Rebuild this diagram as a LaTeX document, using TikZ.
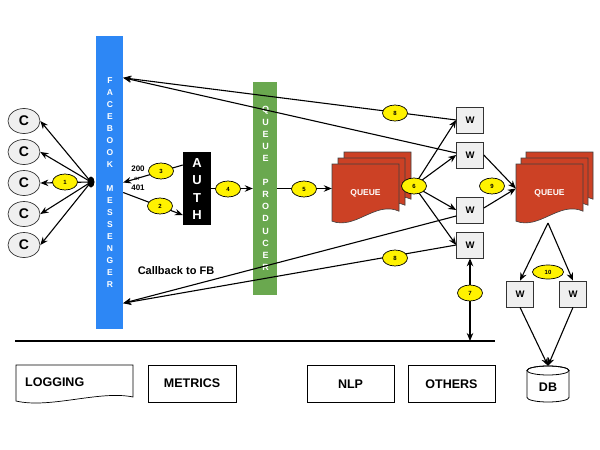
\documentclass[tikz,border=0pt]{standalone}
\usepackage{fontspec}
\setmainfont{Liberation Sans}
\usetikzlibrary{arrows.meta,calc,shapes.geometric}
\definecolor{fbblue}{RGB}{45,135,245}
\definecolor{prodgreen}{RGB}{106,168,79}
\definecolor{qred}{RGB}{204,65,37}
\definecolor{wgray}{RGB}{239,239,239}
\begin{document}
\begin{tikzpicture}[x=1pt,y=-1pt,
 conn/.style={line width=1.1pt, -{Stealth[length=8pt,width=6.5pt]}},
 lab/.style={ellipse, draw, fill=yellow, line width=0.7pt, minimum width=25pt, minimum height=16pt, inner sep=0pt, font=\fontsize{6}{6}\selectfont\bfseries},
 wbox/.style={rectangle, draw=black!80, fill=wgray, line width=0.6pt, minimum width=27pt, minimum height=26pt, inner sep=0pt, font=\fontsize{9.5}{10}\selectfont\bfseries},
 cnode/.style={ellipse, draw=black!80, fill=wgray, line width=0.7pt, minimum width=32pt, minimum height=25pt, inner sep=0pt, font=\fontsize{14}{14}\selectfont\bfseries},
 bbox/.style={rectangle, draw, line width=0.7pt, minimum width=87pt, minimum height=37pt, inner sep=0pt, font=\fontsize{12.5}{13}\selectfont\bfseries},
 vlet/.style={text=white, font=\fontsize{8.5}{9}\selectfont\bfseries, inner sep=0pt},
 docq/.style={fill=qred, draw=black!75, line width=0.6pt},
 qdocpic/.pic={\filldraw[docq] (0,0) -- (67,0) -- (67,47.2) .. controls (43.55,36.6) and (23.45,66.1) .. (0,57.2) -- cycle;},
]
\useasboundingbox (0,0) rectangle (600,450);

% Facebook Messenger bar
\node[rectangle, fill=fbblue, minimum width=27pt, minimum height=293pt, inner sep=0pt] (fb) at (109.5,182.5) {};
\foreach \ch [count=\i from 0] in {F,A,C,E,B,O,O,K,{},M,E,S,S,E,N,G,E,R}
  \node[vlet] (fbl\i) at (110,{81+12*\i}) {\ch};

% Queue producer bar
\node[rectangle, fill=prodgreen, minimum width=24pt, minimum height=213pt, inner sep=0pt] (prod) at (265,188.5) {};
\foreach \ch [count=\i from 0] in {Q,U,E,U,E,{},P,R,O,D,U,C,E,R}
  \node[vlet, font=\fontsize{9}{9}\selectfont\bfseries] (pl\i) at (265.5,{110+12.1*\i}) {\ch};

% AUTH
\node[rectangle, fill=black, minimum width=28pt, minimum height=73pt, inner sep=0pt] (auth) at (197,188.5) {};
\foreach \ch [count=\i from 0] in {A,U,T,H}
  \node[text=white, font=\fontsize{13}{13}\selectfont\bfseries, inner sep=0pt] (al\i) at (197,{163+17.3*\i}) {\ch};

% Clients
\foreach \y [count=\i] in {121,152,183,214,245}
  \node[cnode] (c\i) at (24,\y) {C};
\node[ellipse, fill=black, minimum width=7pt, minimum height=11pt, inner sep=0pt] (blob) at (91,182) {};

% Queues
\pic at (344,152) {qdocpic};
\pic at (338,158) {qdocpic};
\pic at (332,164) {qdocpic};
\node[rectangle, minimum width=67pt, minimum height=59pt, inner sep=0pt, text=white, font=\fontsize{8.5}{9}\selectfont\bfseries] (q1) at (365.5,193.5) {QUEUE};
\pic at (526,152) {qdocpic};
\pic at (521,158) {qdocpic};
\pic at (516,164) {qdocpic};
\node[rectangle, minimum width=67pt, minimum height=59pt, inner sep=0pt, text=white, font=\fontsize{8.5}{9}\selectfont\bfseries] (q2) at (549.5,193.5) {QUEUE};

% Workers
\node[wbox] (w1) at (470,120) {W};
\node[wbox] (w2) at (470,155) {W};
\node[wbox] (w3) at (470,210) {W};
\node[wbox] (w4) at (470,245) {W};
\node[wbox] (w5) at (520,294) {W};
\node[wbox] (w6) at (573,294) {W};

% DB
\node[rectangle, minimum width=42pt, minimum height=36pt, inner sep=0pt] (db) at (548,384) {};
\filldraw[fill=white, draw=black, line width=0.8pt] (527,370.5) -- (527,397.5) arc[start angle=180,end angle=0,x radius=21,y radius=4.5] -- (569,370.5) arc[start angle=0,end angle=-180,x radius=21,y radius=4.5] -- cycle;
\draw[line width=0.8pt] (548,370.5) ellipse[x radius=21, y radius=4.5];
\node[font=\fontsize{12.5}{13}\selectfont\bfseries, inner sep=0pt] (dbt) at (548,387) {DB};

% Bottom
\coordinate (hl1) at (15,341);
\coordinate (hl2) at (495,341);
\draw[line width=1.1pt] (hl1) -- (hl2);
\filldraw[fill=white, line width=0.7pt] (16,365) -- (133,365) -- (133,397) .. controls (100,390) and (50,409) .. (16,401) -- cycle;
\node[anchor=west, font=\fontsize{12.5}{13}\selectfont\bfseries, inner sep=0pt] (logt) at (25,382) {LOGGING};
\node[bbox, minimum width=88pt] (metrics) at (192,383.5) {METRICS};
\node[bbox] (nlp) at (350.5,384) {NLP};
\node[bbox] (others) at (451.5,384) {OTHERS};

% Texts
\node[font=\fontsize{11}{12}\selectfont\bfseries, inner sep=0pt] (cb) at (176,271) {Callback to FB};
\node[font=\fontsize{8}{8}\selectfont\bfseries, inner sep=0pt] (t200) at (138,169) {200};
\node[font=\fontsize{6}{6}\selectfont\bfseries, inner sep=0pt, text=black!70] (tor) at (137,179) {or};
\node[font=\fontsize{8}{8}\selectfont\bfseries, inner sep=0pt] (t401) at (138,188) {401};

% Connectors
\foreach \i in {1,...,5} \draw[conn] (blob.center) -- (c\i.east);
\draw[conn] ($(auth.west)+(0,-23.5)$) -- (fb.east);
\draw[conn] ($(fb.east)+(0,10)$) -- ($(auth.west)+(0,26.5)$);
\draw[conn] (auth.east) -- (prod.west);
\draw[conn] (prod.east) -- (q1.west |- prod.east);
\coordinate (e6c) at (414,186);
\foreach \i in {1,...,4} \draw[conn] (e6c) -- (w\i.west);
\coordinate (fbtop) at ($(fb.north east)+(0,42)$);
\coordinate (fbbot) at ($(fb.south east)+(0,-26)$);
\draw[conn] (w1.west) -- (fbtop);
\draw[conn] ($(w2.west)+(0,-2)$) -- (fbtop);
\draw[conn] ($(w3.west)+(0,6)$) -- (fbbot);
\draw[conn] (w4.west) -- (fbbot);
\coordinate (q2in) at ($(q2.west)+(0,-5)$);
\draw[conn] (w2.east) -- (q2in);
\draw[conn] ($(w3.east)+(0,-2)$) -- (q2in);
\coordinate (q2out) at (548,223);
\draw[conn] (q2out) -- (w5.north);
\draw[conn] (q2out) -- (w6.north);
\draw[conn] (w5.south) -- (db.north);
\draw[conn] (w6.south) -- (db.north);
\draw[line width=1.1pt, {Stealth[length=8pt,width=6.5pt]}-{Stealth[length=8pt,width=6.5pt]}] (w4.south) -- (w4.south |- hl1);

% Labels
\node[lab] (e1) at (65,182) {1};
\node[lab] (e2) at (160,206) {2};
\node[lab] (e3) at (161,171) {3};
\node[lab] (e4) at (228,189) {4};
\node[lab] (e5) at (304,189) {5};
\node[lab] (e6) at (414,186) {6};
\node[lab] (e7) at (470,293) {7};
\node[lab] (e8a) at (395,113) {8};
\node[lab] (e8b) at (395,258) {8};
\node[lab] (e9) at (492,186) {9};
\node[lab, minimum width=31pt, minimum height=14pt] (e10) at (548,272) {10};
\end{tikzpicture}
\end{document}
